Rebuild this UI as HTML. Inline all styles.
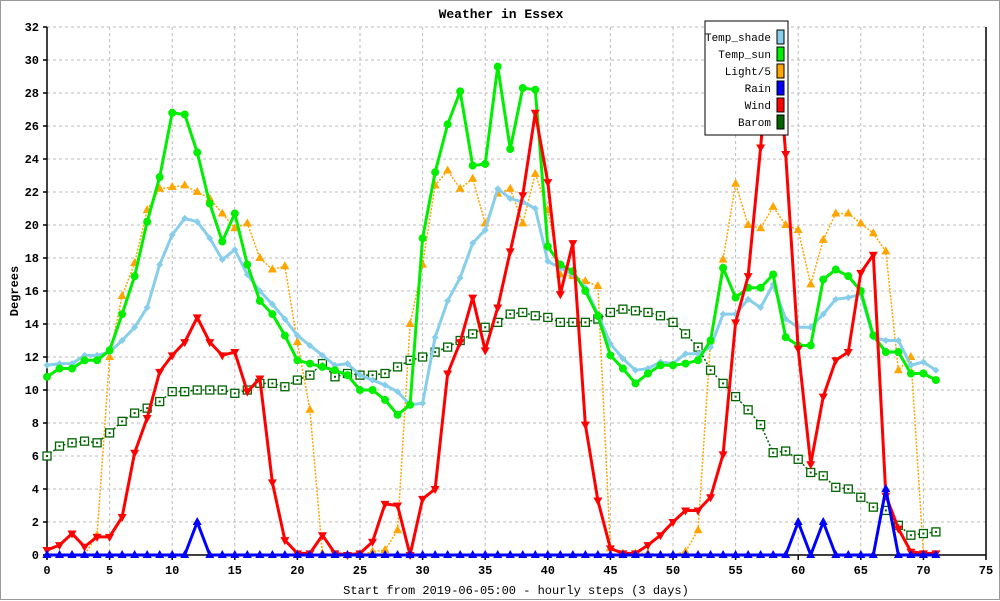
<!DOCTYPE html>
<html><head><meta charset="utf-8"><style>
body{margin:0;background:#fff}
#wrap{width:1000px;height:600px;position:relative;box-sizing:border-box;border:1px solid #999;background:#fff}
svg{position:absolute;left:0;top:0}
text{font-family:"Liberation Mono",monospace}
</style></head><body>
<div id="wrap">
<svg id="chart" width="1000" height="600"></svg>
</div>
<script>
const xTicks=[0,5,10,15,20,25,30,35,40,45,50,55,60,65,70,75];
const yTicks=[0,2,4,6,8,10,12,14,16,18,20,22,24,26,28,30,32];
const tempShade=[11.5,11.6,11.6,12.1,12.1,12.3,13.0,13.8,15.0,17.6,19.4,20.4,20.2,19.2,17.9,18.5,17.0,16.0,15.2,14.3,13.3,12.7,12.1,11.5,11.6,10.9,10.6,10.3,9.9,9.1,9.2,13.2,15.4,16.8,18.9,19.7,22.2,21.6,21.4,21.0,17.8,17.4,17.0,16.2,14.6,12.8,11.9,11.2,11.3,11.7,11.6,12.2,12.2,12.6,14.6,14.6,15.5,15.0,16.4,14.3,13.8,13.8,14.6,15.5,15.6,15.8,13.2,13.0,13.0,11.5,11.7,11.2];
const tempSun=[10.8,11.3,11.3,11.8,11.8,12.4,14.6,16.9,20.2,22.9,26.8,26.7,24.4,21.3,19.0,20.7,17.6,15.4,14.6,13.3,11.8,11.6,11.4,11.2,10.9,10.0,10.0,9.4,8.5,9.1,19.2,23.2,26.1,28.1,23.6,23.7,29.6,24.6,28.3,28.2,18.7,17.6,17.2,16.0,14.5,12.1,11.3,10.4,11.0,11.5,11.5,11.6,11.8,13.0,17.4,15.6,16.2,16.2,17.0,13.2,12.7,12.7,16.7,17.3,16.9,16.0,13.3,12.3,12.3,11.0,11.0,10.6];
const light5=[0,0,0,0,1.2,12.0,15.7,17.7,20.9,22.2,22.3,22.4,22.0,21.6,20.7,19.8,20.1,18.0,17.3,17.5,12.9,8.8,0.1,0,0,0,0.2,0.3,1.5,14.0,17.6,22.4,23.3,22.2,22.8,20.1,21.9,22.2,20.1,23.1,20.9,17.0,16.9,16.6,16.3,0.4,0.1,0.1,0.1,0,0,0.2,1.5,13.0,17.9,22.5,20.0,19.8,21.1,20.0,19.7,16.4,19.1,20.7,20.7,20.1,19.5,18.4,11.2,12.0,0.1,0];
const rain=[0,0,0,0,0,0,0,0,0,0,0,0,2,0,0,0,0,0,0,0,0,0,0,0,0,0,0,0,0,0,0,0,0,0,0,0,0,0,0,0,0,0,0,0,0,0,0,0,0,0,0,0,0,0,0,0,0,0,0,0,2,0,2,0,0,0,0,4,0,0,0,0];
const wind=[0.3,0.6,1.3,0.5,1.1,1.1,2.3,6.2,8.3,11.1,12.1,12.9,14.4,12.9,12.1,12.3,9.9,10.7,4.4,0.9,0.1,0.1,1.2,0.1,0,0.1,0.8,3.1,3.0,0,3.4,4.0,11.0,12.9,15.6,12.4,15.0,18.4,21.8,26.8,22.6,15.8,18.9,7.9,3.3,0.4,0.1,0.1,0.6,1.2,2.0,2.7,2.7,3.5,6.1,14.1,16.9,24.7,34,24.3,12.5,5.5,9.6,11.8,12.3,17.1,18.2,3.6,1.6,0.2,0.1,0.1];
const barom=[6.0,6.6,6.8,6.9,6.8,7.4,8.1,8.6,8.9,9.3,9.9,9.9,10.0,10.0,10.0,9.8,10.0,10.4,10.4,10.2,10.6,10.9,11.6,10.8,11.0,10.9,10.9,11.0,11.4,11.8,12.0,12.3,12.6,13.0,13.4,13.8,14.1,14.6,14.7,14.5,14.4,14.1,14.1,14.1,14.3,14.7,14.9,14.8,14.7,14.5,14.1,13.4,12.6,11.2,10.4,9.6,8.8,7.9,6.2,6.3,5.8,5.0,4.8,4.1,4.0,3.5,2.9,2.7,1.8,1.2,1.3,1.4];

const L=46,R=985,T=26,B=554,XMAX=75,YMAX=32;
const X=v=>L+v*(R-L)/XMAX, Y=v=>B-v*(B-T)/YMAX;
const NS="http://www.w3.org/2000/svg";
const svg=document.getElementById('chart');
function mk(tag,attrs,parent){const e=document.createElementNS(NS,tag);for(const k in attrs)e.setAttribute(k,attrs[k]);(parent||svg).appendChild(e);return e;}

const defs=mk('defs',{});
const cp=mk('clipPath',{id:'pc'},defs);mk('rect',{x:L-6,y:T,width:R-L+12,height:B-T+8},cp);

// title
let t=mk('text',{x:500,y:17,'text-anchor':'middle','font-size':13,'font-weight':'bold'});t.textContent='Weather in Essex';



// grid
const grid=mk('g',{stroke:'#bbb','stroke-dasharray':'3,3','stroke-width':1});


yTicks.forEach(v=>{if(v>0)mk('line',{x1:L,x2:R,y1:Y(v),y2:Y(v)},grid);});
xTicks.forEach(v=>{if(v>0&&v<XMAX)mk('line',{x1:X(v),x2:X(v),y1:T,y2:B},grid);});

// axes
const ax=mk('g',{stroke:'#000','stroke-width':1.5});


mk('line',{x1:L,x2:L,y1:T,y2:B+4},ax);
mk('line',{x1:L-4,x2:R,y1:B,y2:B},ax);
mk('line',{x1:R,x2:R,y1:T,y2:B},ax);
yTicks.forEach(v=>{mk('line',{x1:L-4,x2:L,y1:Y(v),y2:Y(v)},ax);
 const tt=mk('text',{x:L-8,y:Y(v)+4,'text-anchor':'end','font-size':12,'font-weight':'bold',stroke:'none'});tt.textContent=v;
 
 });
xTicks.forEach(v=>{mk('line',{x1:X(v),x2:X(v),y1:B,y2:B+5},ax);
 const tt=mk('text',{x:X(v),y:B+19,'text-anchor':'middle','font-size':12,'font-weight':'bold',stroke:'none'});tt.textContent=v;
 
 });
t=mk('text',{x:515,y:593,'text-anchor':'middle','font-size':12});t.textContent='Start from 2019-06-05:00 - hourly steps (3 days)';


t=mk('text',{x:0,y:0,'text-anchor':'middle','font-size':12,'font-weight':'bold',transform:'translate(17,290) rotate(-90)'});t.textContent='Degrees';



function marker(g,type,x,y,col){
 if(type==='circle')mk('circle',{cx:x,cy:y,r:4,fill:col},g);
 else if(type==='up')mk('polygon',{points:`${x},${y-5} ${x-4.5},${y+3} ${x+4.5},${y+3}`,fill:col},g);
 else if(type==='down')mk('polygon',{points:`${x},${y+5} ${x-4.5},${y-3} ${x+4.5},${y-3}`,fill:col},g);
 else if(type==='diamond')mk('polygon',{points:`${x},${y-3.5} ${x+3.5},${y} ${x},${y+3.5} ${x-3.5},${y}`,fill:col},g);
 else if(type==='square'){mk('rect',{x:x-4,y:y-4,width:8,height:8,fill:'#fff',stroke:col,'stroke-width':1.3},g);mk('rect',{x:x-1,y:y-1,width:2,height:2,fill:col},g);}
}
function series(name,data,col,w,dash,mtype){
 const g=mk('g',{'clip-path':'url(#pc)'});
 
 
 const pts=data.map((v,i)=>X(i)+','+Y(v)).join(' ');
 const a={points:pts,fill:'none',stroke:col,'stroke-width':w,'stroke-linejoin':'round'};
 if(dash)a['stroke-dasharray']=dash;
 mk('polyline',a,g);
 data.forEach((v,i)=>marker(g,mtype,X(i),Y(v),col));
}
series('light-series',light5,'#ffa500',1.5,'2,1.5','up');
series('barom-series',barom,'#006400',1.5,'2,2','square');
series('temp-shade-series',tempShade,'#87ceeb',3,null,'diamond');
series('temp-sun-series',tempSun,'#00ee00',3,null,'circle');
series('wind-series',wind,'#ff0000',3,null,'down');
series('rain-series',rain,'#0000ff',3,null,'up');

// legend
const lg=mk('g',{});


mk('rect',{x:704,y:20,width:83,height:114,fill:'#fff',stroke:'#000','stroke-width':1},lg);
const names=['Temp_shade','Temp_sun','Light/5','Rain','Wind','Barom'];
const cols=['#87ceeb','#00ee00','#ffa500','#0000ff','#ff0000','#006400'];
names.forEach((n,i)=>{const y=36+i*17;
 const tt=mk('text',{x:770,y:y+4,'text-anchor':'end','font-size':11},lg);tt.textContent=n;
 
 
 mk('rect',{x:776,y:y-7,width:7,height:14,fill:cols[i],stroke:'#000','stroke-width':1},lg);});
</script>
</body></html>
